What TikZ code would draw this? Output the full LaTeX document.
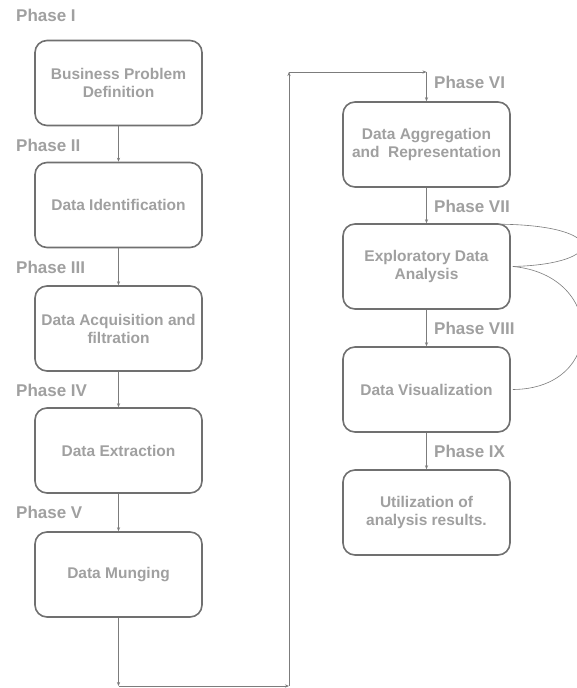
\documentclass[tikz,border=0pt]{standalone}
\usepackage{fontspec}
\setmainfont{Liberation Sans}
\usetikzlibrary{arrows.meta}
\definecolor{boxline}{HTML}{707070}
\definecolor{boxtext}{HTML}{A0A0A0}
\definecolor{linkcol}{HTML}{7C7C7C}
\tikzset{
  phasebox/.style={draw=boxline, line width=1.6pt, rounded corners=12pt,
    minimum width=167pt, minimum height=85pt, align=center, text=boxtext,
    font=\bfseries\fontsize{15.5}{18}\selectfont, inner sep=2pt},
  phaselabel/.style={anchor=base west, text=boxtext, inner sep=0pt,
    font=\bfseries\fontsize{17}{20}\selectfont},
  link/.style={draw=linkcol, line width=0.7pt, -{Stealth[length=4pt,width=3.2pt]}},
  loopline/.style={draw=linkcol, line width=0.6pt}
}
\begin{document}
\begin{tikzpicture}[x=1pt,y=-1pt]
\useasboundingbox (0,0) rectangle (576,688);
\fill[white] (0,0) rectangle (576,688);

% left column
\node[phasebox] (b1) at (118.5,83)  {Business Problem\\Definition};
\node[phasebox] (b2) at (118.5,205) {Data Identification};
\node[phasebox] (b3) at (118.5,328.5) {Data Acquisition and\\filtration};
\node[phasebox] (b4) at (118.5,450.5) {Data Extraction};
\node[phasebox] (b5) at (118.5,574.5) {Data Munging};

\node[phaselabel] (p1) at (16,21)  {Phase I};
\node[phaselabel] (p2) at (16,151) {Phase II};
\node[phaselabel] (p3) at (16,273) {Phase III};
\node[phaselabel] (p4) at (16,396) {Phase IV};
\node[phaselabel] (p5) at (16,518) {Phase V};

% right column
\node[phasebox] (b6) at (426.5,144.5) {Data Aggregation\\and\ \ Representation};
\node[phasebox] (b7) at (426.5,266.5) {Exploratory Data\\Analysis};
\node[phasebox] (b8) at (426.5,389.5) {Data Visualization};
\node[phasebox] (b9) at (426.5,512.5) {Utilization of\\analysis results.};

\node[phaselabel] (p6) at (434,88)  {Phase VI};
\node[phaselabel] (p7) at (434,212) {Phase VII};
\node[phaselabel] (p8) at (434,334) {Phase VIII};
\node[phaselabel] (p9) at (434,457) {Phase IX};

% straight links
\draw[link] (b1) -- (b2);
\draw[link] (b2) -- (b3);
\draw[link] (b3) -- (b4);
\draw[link] (b4) -- (b5);
\draw[link] (b6) -- (b7);
\draw[link] (b7) -- (b8);
\draw[link] (b8) -- (b9);

% route from the last left box round to the right column
\coordinate (c1) at (118.5,686);
\coordinate (c2) at (289,686);
\coordinate (c3) at (289,72);
\coordinate (c4) at (426.5,72);
\draw[link] (b5.south) -- (c1);
\draw[link] (c1) -- (c2);
\draw[link] (c2) -- (c3);
\draw[link] (c3) -- (c4);
\draw[link] (c4) -- (b6.north);

% feedback curves on the right
\coordinate (l0) at ([xshift=-12pt,yshift=-1pt]b7.north east);
\coordinate (l1) at ([xshift=2pt]b7.east);
\coordinate (l2) at ([xshift=2pt]b8.east);
\draw[loopline] (l0) .. controls (608,225) and (608,264) .. (l1);
\draw[loopline] (l1) .. controls (606,275) and (606,389) .. (l2);
\end{tikzpicture}
\end{document}
